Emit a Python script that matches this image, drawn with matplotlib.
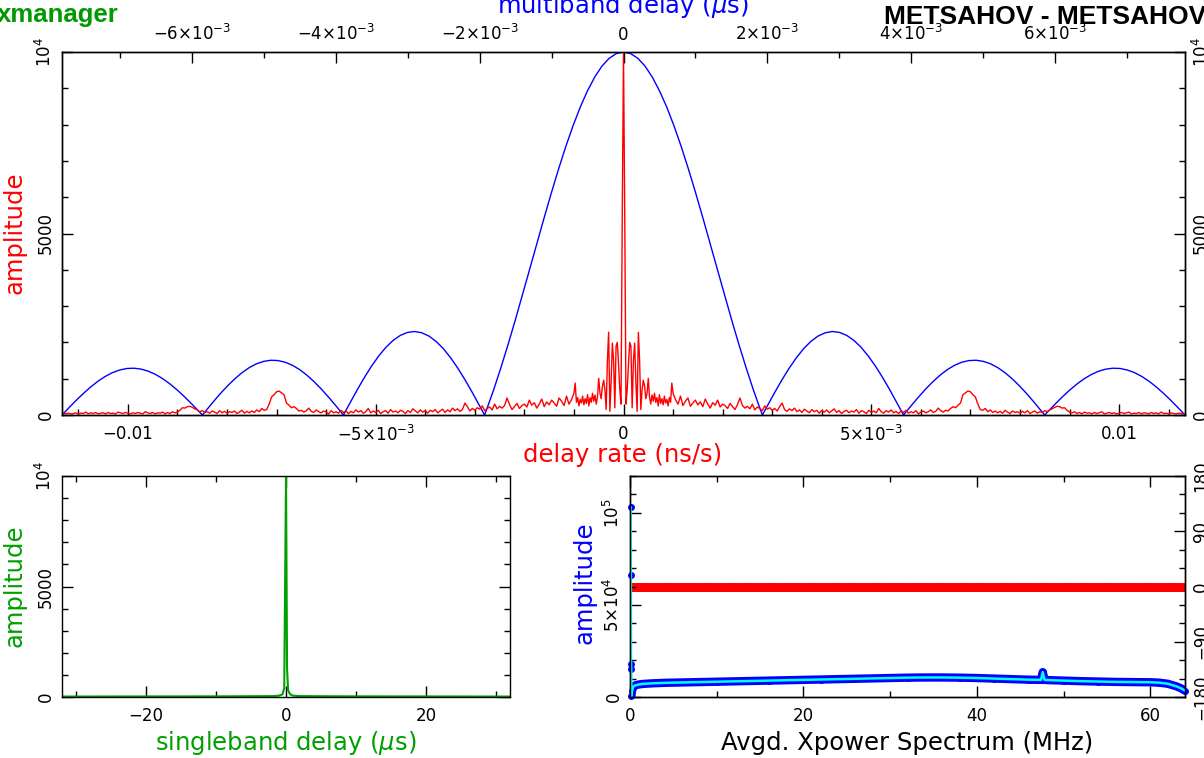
import numpy as np
import matplotlib
matplotlib.use("Agg")
import matplotlib.pyplot as plt
from matplotlib.ticker import MultipleLocator

plt.rcParams['font.family'] = ['DejaVu Sans']

# ---- multiband delay function (symmetric about 0), delay in 1e-3 us ----
mbd_delay_half = np.round(np.arange(0, 7.81, 0.1), 2)
mbd_amp_half = [10000, 9956, 9825, 9609, 9309, 8931, 8486, 7973, 7406, 6788,
                6133, 5450, 4749, 4040, 3335, 2637, 1964, 1322, 716, 157,
                258, 619, 965, 1285, 1573, 1822, 2022, 2171, 2264, 2300,
                2276, 2194, 2056, 1865, 1626, 1347, 1032, 690, 330, 24,
                265, 499, 720, 922, 1101, 1252, 1371, 1454, 1500, 1508,
                1477, 1409, 1304, 1165, 996, 803, 590, 360, 121, 104,
                309, 506, 690, 855, 999, 1117, 1206, 1264, 1289, 1281,
                1239, 1166, 1062, 931, 775, 599, 409, 207, 0]
mbd_zero_delay = [1.93, 3.89, 5.85]

# ---- delay rate function (symmetric about 0), rate in 1e-3 ns/s ----
rate_core = np.round(np.arange(0, 1.0001, 0.025), 3)
rate_core_amp = [10000, 5500, 300, 700, 1400, 2000, 1900, 200, 1500, 1980,
                 900, 100, 2280, 1500, 150, 700, 960, 800, 450, 600,
                 1010, 500, 300, 550, 380, 600, 350, 480, 250, 560,
                 320, 450, 280, 520, 330, 430, 250, 480, 350, 880, 600]
rate_outer = np.round(1.05 + 0.05 * np.arange(207), 2)
rate_outer_amp = [
    420, 300, 520, 260, 380, 470, 240, 330, 410, 280,
    360, 230, 440, 300, 190, 340, 270, 410, 220, 300,
    260, 180, 320, 230, 150, 290, 470, 260, 190, 240,
    170, 300, 140, 220, 180, 120, 250, 160, 200, 130,
    180, 110, 230, 330, 150, 100, 170, 120, 190, 90,
    140, 70, 160, 110, 60, 150, 90, 130, 50, 120,
    80, 140, 60, 110, 170, 70, 120, 40, 100, 130,
    60, 110, 80, 150, 50, 120, 90, 40, 130, 70,
    110, 60, 180, 90, 50, 120, 80, 140, 60, 100,
    40, 110, 70, 130, 50, 90, 60, 120, 30, 80,
    110, 60, 90, 140, 70, 100, 190, 120, 80, 130,
    110, 180, 230, 200, 270, 330, 560, 610, 660, 640,
    560, 500, 300, 150, 130, 180, 90, 140, 70, 110,
    60, 100, 50, 130, 80, 40, 110, 70, 90, 50,
    100, 60, 120, 40, 80, 110, 50, 90, 70, 120,
    90, 140, 170, 210, 240, 230, 190, 200, 130, 80,
    60, 90, 40, 70, 30, 80, 50, 60, 30, 70,
    40, 60, 90, 30, 50, 70, 40, 60, 30, 50,
    70, 40, 60, 80, 30, 50, 40, 70, 30, 60,
    50, 30, 70, 40, 60, 30, 80, 40, 50, 30,
    60, 40, 30, 50, 40, 30, 20]

# ---- singleband delay (us) ----
sbd_delay = [-32, -8, -2, -1, -0.5, -0.25, 0, 0.15, 0.3, 0.6, 1, 2, 8, 32]
sbd_amp = [20, 30, 40, 60, 120, 400, 10000, 1300, 300, 120, 60, 40, 30, 20]

# ---- averaged cross power spectrum ----
xp_freq = [0.08, 0.1, 0.12, 0.14, 0.16, 0.22, 0.35, 0.6, 1.0, 1.5, 2.5, 4, 6, 8,
           10, 12, 14, 16, 18, 20, 22, 24, 26, 28, 30, 32, 34, 36, 38, 40,
           42, 44, 46, 47.4, 47.6, 47.8, 48, 50, 52, 54, 56, 58, 60, 61, 62,
           63, 63.5, 64]
xp_amp = [103000, 66000, 18000, 15000, 500, 3000, 5500, 6300, 6800, 7100,
          7400, 7700, 7900, 8100, 8300, 8500, 8700, 8900, 9100, 9300, 9500,
          9700, 9900, 10100, 10300, 10500, 10600, 10600, 10500, 10300, 10000,
          9700, 9400, 9300, 13500, 9300, 9200, 8900, 8600, 8400, 8200, 8100,
          8000, 7800, 7200, 5800, 4800, 3500]
xp_phase_freq = np.linspace(0, 64, 257)
xp_phase = np.zeros_like(xp_phase_freq)   # phase is flat at 0 deg

# build symmetric curves
d = np.concatenate([mbd_delay_half, mbd_zero_delay])
a = np.concatenate([mbd_amp_half, np.zeros(len(mbd_zero_delay))])
o = np.argsort(d)
d, a = d[o], a[o]
mbd_x = np.concatenate([-d[::-1], d[1:]]) * 1e-3
mbd_y = np.concatenate([a[::-1], a[1:]])

r = np.concatenate([rate_core, rate_outer])
ra = np.concatenate([rate_core_amp, rate_outer_amp])
rate_x = np.concatenate([-r[::-1], r[1:]]) * 1e-3
rate_y = np.concatenate([ra[::-1], ra[1:]])

W, H = 1204, 758
fig = plt.figure(figsize=(W / 100, H / 100), dpi=100)


def px_rect(l, t, rr, b):
    return [l / W, 1 - b / H, (rr - l) / W, (b - t) / H]


def fx(x):
    return x / W


def fy(y):
    return 1 - y / H


def style(ax):
    for s in ax.spines.values():
        s.set_linewidth(1.0)
    ax.tick_params(which='both', direction='in', labelsize=12)
    ax.tick_params(which='major', length=8, width=1)
    ax.tick_params(which='minor', length=4.5, width=1)


blue, red, green, cyan = '#0000ff', '#ff0000', '#00a000', '#00ffff'

# ---------------- top panel ----------------
ax = fig.add_axes(px_rect(62, 52, 1185, 415))
ax2 = ax.twiny()
ax2.plot(mbd_x, mbd_y, color=blue, lw=1)
ax.plot(rate_x, rate_y, color=red, lw=1)
ax.set_zorder(ax2.get_zorder() + 1)
ax.patch.set_visible(False)

ax.set_xlim(-11.33e-3, 11.33e-3)
ax.set_ylim(0, 10000)
ax2.set_xlim(-7.8e-3, 7.8e-3)
style(ax)
style(ax2)
ax.set_xticks([-0.01, -5e-3, 0, 5e-3, 0.01],
              ['\u22120.01', r'$-5{\times}10^{-3}$', '0', r'$5{\times}10^{-3}$', '0.01'])
ax.xaxis.set_minor_locator(MultipleLocator(1e-3))
ax.set_yticks([0, 5000, 10000], ['0', '5000', r'$10^4$'])
ax.yaxis.set_minor_locator(MultipleLocator(1000))
ax.tick_params(axis='x', which='both', bottom=True, top=False, pad=7)
ax.tick_params(axis='y', which='both', left=True, right=True, labelright=True,
               labelrotation=90, pad=5)
for lab in ax.get_yticklabels():
    lab.set_va('center')
ax2.set_xticks([-6e-3, -4e-3, -2e-3, 0, 2e-3, 4e-3, 6e-3],
               [r'$-6{\times}10^{-3}$', r'$-4{\times}10^{-3}$', r'$-2{\times}10^{-3}$', '0',
                r'$2{\times}10^{-3}$', r'$4{\times}10^{-3}$', r'$6{\times}10^{-3}$'])
ax2.xaxis.set_minor_locator(MultipleLocator(1e-3))
ax2.tick_params(axis='x', which='both', top=True, bottom=False, labeltop=True,
                labelbottom=False, pad=6)

# ---------------- bottom left: singleband delay ----------------
axs = fig.add_axes(px_rect(62, 476, 510, 697))
axs.plot(sbd_delay, sbd_amp, color=green, lw=1.5)
axs.set_xlim(-32, 32)
axs.set_ylim(0, 10000)
style(axs)
axs.set_xticks([-20, 0, 20], ['\u221220', '0', '20'])
axs.xaxis.set_minor_locator(MultipleLocator(10))
axs.set_yticks([0, 5000, 10000], ['0', '5000', r'$10^4$'])
axs.yaxis.set_minor_locator(MultipleLocator(1000))
axs.tick_params(which='both', top=True, right=True)
axs.tick_params(axis='x', pad=7)
axs.tick_params(axis='y', labelrotation=90, pad=5)
for lab in axs.get_yticklabels():
    lab.set_va('center')

# ---------------- bottom right: cross power spectrum ----------------
axp = fig.add_axes(px_rect(630, 476, 1185, 697))
axph = axp.twinx()
xf = np.array(xp_freq)
xa = np.array(xp_amp)
body = xf >= 0.15
axp.plot(xf[body], xa[body], color=blue, lw=6, solid_capstyle='round')
axp.plot(xf, xa, 'o', color=blue, ms=5, mec='none', clip_on=False)
axp.plot(xf, xa, color=cyan, lw=1.8)
axph.plot(xp_phase_freq, xp_phase, 'o', color=red, ms=6.5, mec='none')
axp.set_zorder(axph.get_zorder() + 1)
axp.patch.set_visible(False)

axp.set_xlim(0, 64)
axp.set_ylim(0, 1.2e5)
axph.set_ylim(-180, 180)
style(axp)
style(axph)
axp.set_xticks([0, 20, 40, 60], ['0', '20', '40', '60'])
axp.xaxis.set_minor_locator(MultipleLocator(10))
axp.set_yticks([0, 5e4, 1e5], ['0', r'$5{\times}10^4$', r'$10^5$'])
axp.yaxis.set_minor_locator(MultipleLocator(1e4))
axp.tick_params(which='both', top=True, right=False)
axp.tick_params(axis='x', pad=7)
axp.tick_params(axis='y', labelrotation=90, pad=5)
for lab in axp.get_yticklabels():
    lab.set_va('center')
axph.set_yticks([-180, -90, 0, 90, 180], ['\u2212180', '\u221290', '0', '90', '180'])
axph.yaxis.set_minor_locator(MultipleLocator(30))
axph.tick_params(axis='y', labelrotation=90, pad=5)
for lab in axph.get_yticklabels():
    lab.set_va('center')

# ---------------- labels and titles ----------------
lab_fs = 17.5
fig.text(fx(623), fy(455), 'delay rate (ns/s)', color=red, fontsize=lab_fs,
         ha='center', va='center')
fig.text(fx(623), fy(6), r'multiband delay ($\mu$s)', color=blue, fontsize=lab_fs,
         ha='center', va='center')
fig.text(fx(15), fy(233), 'amplitude', color=red, fontsize=lab_fs,
         ha='center', va='center', rotation=90)
fig.text(fx(15), fy(586), 'amplitude', color=green, fontsize=lab_fs,
         ha='center', va='center', rotation=90)
fig.text(fx(286), fy(743), r'singleband delay ($\mu$s)', color=green, fontsize=lab_fs,
         ha='center', va='center')
fig.text(fx(585), fy(583), 'amplitude', color=blue, fontsize=lab_fs,
         ha='center', va='center', rotation=90)
fig.text(fx(907), fy(743), 'Avgd. Xpower Spectrum (MHz)', color='black',
         fontsize=lab_fs, ha='center', va='center')
fig.text(fx(-3), fy(22), 'xmanager', color='#009900', fontsize=18.5,
         fontweight='bold', family='Liberation Sans', ha='left', va='baseline')
fig.text(fx(1206), fy(24), 'METSAHOV - METSAHOV', color='black', fontsize=19,
         fontweight='bold', family='Liberation Sans', ha='right', va='baseline')

fig.savefig('out.png', dpi=100)
